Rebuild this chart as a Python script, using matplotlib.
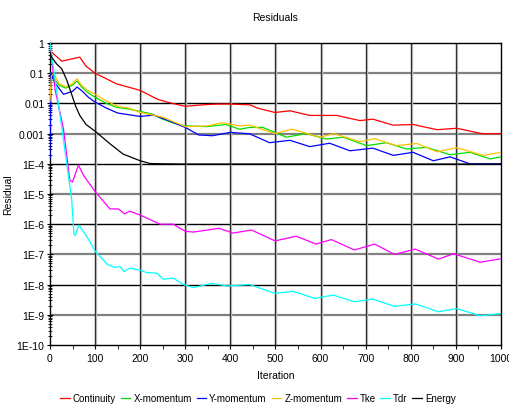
import numpy as np
import matplotlib
matplotlib.use("Agg")
import matplotlib.pyplot as plt
from matplotlib.ticker import FixedLocator, FixedFormatter, LogLocator, NullFormatter, MultipleLocator

plt.rcParams['font.family'] = ['Liberation Sans', 'DejaVu Sans']

# --- data ---
cont_it = [0, 4, 26, 50, 66, 80, 100, 130, 148, 200, 237, 260, 300, 340, 370, 400, 443,
           460, 499, 532, 576, 636, 687, 716, 761, 805, 858, 902, 960, 1000]
cont_val = [0.5, 0.49, 0.25, 0.3, 0.34, 0.17, 0.1, 0.06, 0.044, 0.027, 0.014, 0.011, 0.008,
            0.009, 0.0095, 0.0095, 0.009, 0.007, 0.005, 0.0057, 0.004, 0.004, 0.0027, 0.003,
            0.0019, 0.002, 0.00135, 0.0015, 0.00098, 0.001]

xmom_it = [0, 8, 20, 35, 50, 60, 70, 85, 100, 125, 148, 175, 200, 225, 250, 275, 300, 348,
           390, 420, 443, 472, 524, 568, 613, 650, 702, 746, 790, 835, 887, 931, 976, 1000]
xmom_val = [0.1, 0.07, 0.04, 0.032, 0.04, 0.055, 0.035, 0.022, 0.016, 0.01, 0.0074, 0.0065,
            0.0054, 0.0045, 0.003, 0.0022, 0.0018, 0.0017, 0.002, 0.0014, 0.0016, 0.0016,
            0.00076, 0.001, 0.00066, 0.00076, 0.0004, 0.0005, 0.00031, 0.00035, 0.0002,
            0.00024, 0.000145, 0.00017]

ymom_it = [0, 2, 10, 30, 50, 60, 72, 85, 100, 125, 150, 200, 230, 260, 300, 330, 360, 400,
           443, 487, 532, 576, 620, 665, 716, 761, 805, 850, 887, 931, 961, 1000]
ymom_val = [0.00015, 0.1, 0.05, 0.02, 0.025, 0.035, 0.025, 0.016, 0.011, 0.007, 0.0048,
            0.0037, 0.0041, 0.0028, 0.0016, 0.0009, 0.00085, 0.0011, 0.00098, 0.0005, 0.0006,
            0.00037, 0.00048, 0.00027, 0.00033, 0.00019, 0.00024, 0.000126, 0.00017, 0.0001,
            0.0001, 0.0001]

zmom_it = [0, 3, 8, 20, 35, 50, 60, 70, 85, 100, 125, 150, 175, 200, 250, 300, 350, 380,
           420, 443, 499, 537, 599, 629, 687, 720, 768, 813, 858, 902, 961, 1000]
zmom_val = [0.012, 0.08, 0.1, 0.045, 0.035, 0.045, 0.065, 0.04, 0.026, 0.02, 0.012, 0.008,
            0.007, 0.005, 0.0035, 0.0017, 0.0018, 0.0023, 0.0018, 0.0019, 0.001, 0.0014,
            0.00076, 0.001, 0.00054, 0.00068, 0.0004, 0.00047, 0.00025, 0.00034, 0.00019,
            0.00024]

tke_it = [0, 11, 30, 44, 50, 57, 63, 75, 100, 133, 152, 165, 177, 200, 244, 273, 300, 318,
          375, 406, 447, 499, 546, 590, 624, 675, 720, 764, 810, 861, 895, 954, 1000]
tke_val = [1, 0.03, 0.0014, 2.8e-5, 2.5e-5, 5e-5, 9e-5, 4e-5, 1.2e-5, 3.2e-6, 3.2e-6, 2.2e-6,
           2.7e-6, 2e-6, 1e-6, 1e-6, 5.8e-7, 5.5e-7, 7.3e-7, 5.1e-7, 6.4e-7, 2.8e-7, 4e-7,
           2.2e-7, 3.1e-7, 1.4e-7, 2.2e-7, 1e-7, 1.5e-7, 7e-8, 1.05e-7, 5.5e-8, 7.2e-8]

tdr_it = [0, 48, 53, 56, 64, 70, 83, 100, 126, 143, 155, 164, 177, 200, 214, 237, 251, 273,
          296, 318, 359, 392, 443, 499, 539, 587, 628, 675, 716, 764, 810, 861, 902, 954, 1000]
tdr_val = [1, 6.8e-6, 4.7e-7, 4.2e-7, 9.3e-7, 7e-7, 3.6e-7, 1.3e-7, 4.8e-8, 3.7e-8, 4e-8,
           2.7e-8, 3.5e-8, 3e-8, 2.5e-8, 2.4e-8, 1.5e-8, 1.65e-8, 1e-8, 8e-9, 1.1e-8, 9e-9,
           1e-8, 5.1e-9, 6e-9, 3.5e-9, 4.5e-9, 2.7e-9, 3.3e-9, 1.9e-9, 2.3e-9, 1.26e-9,
           1.6e-9, 9.3e-10, 1.1e-9]

energy_it = [0, 3, 15, 26, 37, 48, 57, 66, 80, 100, 133, 162, 200, 222, 250, 300, 400, 500,
             600, 700, 800, 900, 1000]
energy_val = [0.5, 0.35, 0.2, 0.14, 0.06, 0.02, 0.008, 0.004, 0.002, 0.0012, 0.00046,
              0.00021, 0.000126, 0.000102, 0.0001, 9.8e-5, 9.8e-5, 9.8e-5, 9.8e-5, 9.8e-5,
              9.8e-5, 9.8e-5, 9.8e-5]

y_ticks = [1e-10, 1e-9, 1e-8, 1e-7, 1e-6, 1e-5, 1e-4, 1e-3, 1e-2, 1e-1, 1]
y_labels = ["1E-10", "1E-9", "1E-8", "1E-7", "1E-6", "1E-5", "1E-4", "0.001", "0.01", "0.1", "1"]

series = [
    ("Continuity", cont_it, cont_val, "#ff0000"),
    ("X-momentum", xmom_it, xmom_val, "#00e000"),
    ("Y-momentum", ymom_it, ymom_val, "#0000ff"),
    ("Z-momentum", zmom_it, zmom_val, "#ffc000"),
    ("Tke", tke_it, tke_val, "#ff00ff"),
    ("Tdr", tdr_it, tdr_val, "#00ffff"),
    ("Energy", energy_it, energy_val, "#000000"),
]

fig = plt.figure(figsize=(5.1, 4.1), dpi=100)
ax = fig.add_axes([50 / 510, 1 - 346 / 410, 451 / 510, 302 / 410])
ax.set_yscale("log")
ax.set_xlim(0, 1000)
ax.set_ylim(1e-10, 1)

# grid: alternating grey / dark horizontal lines, dark verticals
for i, yv in enumerate(y_ticks[1:-1]):
    c = "#808080" if i % 2 == 0 else "#000000"
    lw = 1.6 if i % 2 == 0 else 1.0
    ax.axhline(yv, color=c, lw=lw, zorder=1)
for xv in range(100, 1000, 100):
    ax.axvline(xv + 2, color="#d0d0d0", lw=1.0, zorder=1)
    ax.axvline(xv, color="#303030", lw=1.0, zorder=1)

for name, it, val, col in series:
    ax.plot(it, val, color=col, lw=0.9, label=name, zorder=3)

ax.yaxis.set_major_locator(FixedLocator(y_ticks))
ax.yaxis.set_major_formatter(FixedFormatter(y_labels))
ax.yaxis.set_minor_locator(LogLocator(base=10, subs=np.arange(2, 10), numticks=20))
ax.yaxis.set_minor_formatter(NullFormatter())
ax.xaxis.set_major_locator(MultipleLocator(100))
ax.xaxis.set_minor_locator(MultipleLocator(50))
ax.tick_params(axis="both", which="major", labelsize=7.5, length=4, width=0.8,
               direction="inout", pad=2)
ax.tick_params(axis="both", which="minor", length=3, width=0.6, direction="inout")
ax.tick_params(axis="x", which="both", direction="out", length=3, pad=3)

for s in ax.spines.values():
    s.set_linewidth(1.0)
    s.set_color("black")

ax.set_xlabel("Iteration", fontsize=7.5, labelpad=5)
ax.set_ylabel("Residual", fontsize=7.5)
ax.yaxis.set_label_coords(-0.082, 0.5)
fig.text(275 / 510, 1 - 18 / 410, "Residuals", ha="center", va="center", fontsize=7.5)

fig.legend(loc="center", bbox_to_anchor=(258 / 510, 1 - 399 / 410), ncol=7,
           frameon=False, fontsize=7, handlelength=1.0, handletextpad=0.3,
           columnspacing=0.5)

fig.savefig("out.png", dpi=100)
